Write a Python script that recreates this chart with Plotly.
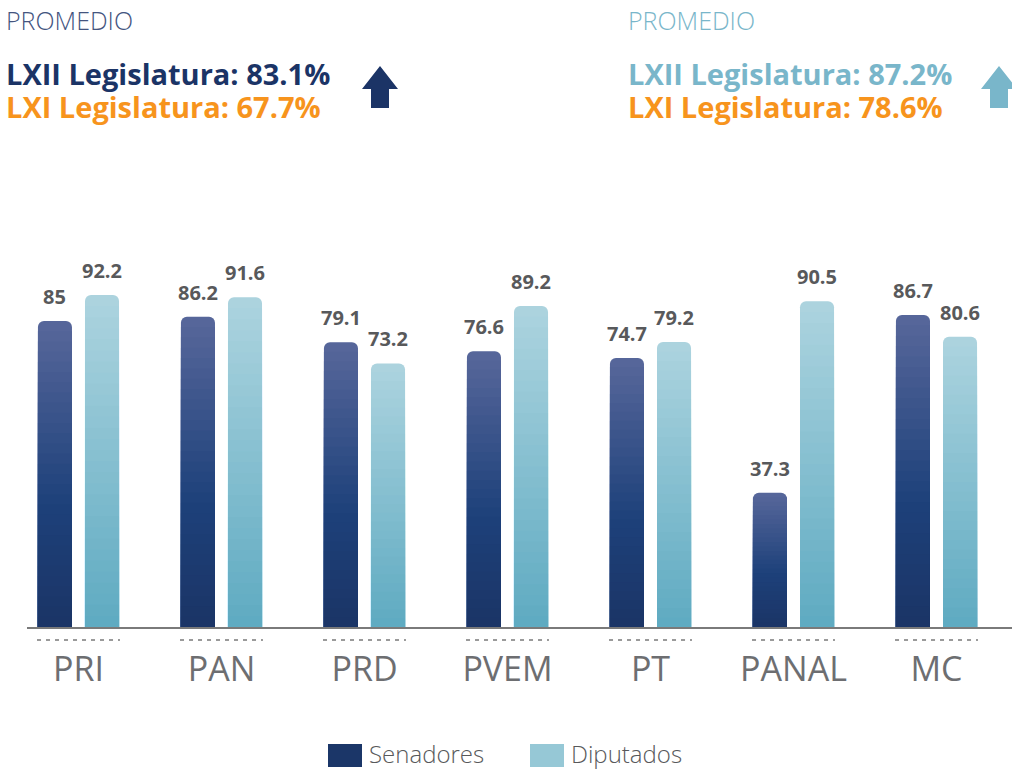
import plotly.graph_objects as go

# ---------------- data ----------------
categories = ["PRI", "PAN", "PRD", "PVEM", "PT", "PANAL", "MC"]
senadores = [85, 86.2, 79.1, 76.6, 74.7, 37.3, 86.7]
diputados = [92.2, 91.6, 73.2, 89.2, 79.2, 90.5, 80.6]
series_names = ["Senadores", "Diputados"]

prom_sen_lxii = "83.1%"
prom_sen_lxi = "67.7%"
prom_dip_lxii = "87.2%"
prom_dip_lxi = "78.6%"

# ---------------- style ----------------
W, H = 1012, 770
ML, MR, MT, MB = 27, 0, 150, 143
PW, PH = W - ML - MR, H - MT - MB
FONT = "Open Sans"

def px2x(px):
    return (px - ML) / PW

def px2y(py):
    return (H - MB - py) / PH

def hex2rgb(h):
    h = h.lstrip("#")
    return tuple(int(h[i:i + 2], 16) for i in (0, 2, 4))

def interp(stops, t):
    for (t0, c0), (t1, c1) in zip(stops, stops[1:]):
        if t0 <= t <= t1:
            f = (t - t0) / (t1 - t0) if t1 > t0 else 0
            a, b = hex2rgb(c0), hex2rgb(c1)
            return "rgb(%d,%d,%d)" % tuple(round(a[i] + (b[i] - a[i]) * f) for i in range(3))
    return stops[-1][1]

sen_stops = [(0, "#58679b"), (0.6, "#1d417a"), (1, "#1b3466")]
dip_stops = [(0, "#add4df"), (1, "#5eaac1")]

bar_w = 0.238
centers = [-0.1645, 0.1645]
N = 30

fig = go.Figure()
x_idx = list(range(len(categories)))

for vals, stops, c in [(senadores, sen_stops, centers[0]), (diputados, dip_stops, centers[1])]:
    for k in range(N):
        frac = (N - k) / N
        fig.add_trace(go.Bar(
            x=x_idx,
            y=[v * frac for v in vals],
            width=bar_w,
            offset=c - bar_w / 2,
            marker=dict(color=interp(stops, (k + 0.5) / N), line=dict(width=0),
                        cornerradius=6 if k == 0 else 0),
            showlegend=False,
            hoverinfo="skip",
        ))

# value labels
annotations = []
for vals, c in [(senadores, centers[0]), (diputados, centers[1])]:
    for i, v in enumerate(vals):
        annotations.append(dict(
            x=i + c, y=v, xref="x", yref="y", text=f"{v:g}", showarrow=False,
            yanchor="bottom", xanchor="center", yshift=9,
            font=dict(family=FONT, size=20, color="#58595b", weight="bold"),
        ))

# header texts
def header(px, py, text, color, size, weight):
    annotations.append(dict(
        x=px2x(px), y=px2y(py), xref="paper", yref="paper", text=text, showarrow=False,
        xanchor="left", yanchor="middle", borderpad=0, align="left",
        font=dict(family=FONT, size=size, color=color, weight=weight),
    ))

dark_blue = "#1b3466"
light_blue = "#79b6ca"
orange = "#f7941d"

def two_lines(c1, t1, c2, t2):
    return (f'<span style="font-size:29px;color:{c1}">{t1}</span><br>'
            f'<span style="font-size:29px;color:{c2}">{t2}</span>')

header(5, 20, "PROMEDIO", "#44557f", 25, 300)
header(5, 90, two_lines(dark_blue, f"LXII Legislatura: {prom_sen_lxii}",
                        orange, f"LXI Legislatura: {prom_sen_lxi}"), dark_blue, 25.4, "bold")
header(627, 20, "PROMEDIO", light_blue, 25, 300)
header(627, 90, two_lines(light_blue, f"LXII Legislatura: {prom_dip_lxii}",
                          orange, f"LXI Legislatura: {prom_dip_lxi}"), light_blue, 25.4, "bold")

# legend (custom)
leg_items = [(328, 362, 368, series_names[0], "#1b3668"), (530, 564, 570, series_names[1], "#96c8d6")]
shapes = []
for x0, x1, tx, name, col in leg_items:
    shapes.append(dict(type="rect", xref="paper", yref="paper",
                       x0=px2x(x0), x1=px2x(x1), y0=px2y(767), y1=px2y(744),
                       fillcolor=col, line=dict(width=0)))
    annotations.append(dict(
        x=px2x(tx), y=px2y(754), xref="paper", yref="paper", text=name, showarrow=False,
        xanchor="left", yanchor="middle", borderpad=0,
        font=dict(family=FONT, size=24, color="#58595b", weight=300),
    ))

# arrows
def arrow(xl, xr, sl, sr, top, mid, bottom, col):
    cx = (xl + xr) / 2
    pts = [(cx, top), (xr, mid), (sr, mid), (sr, bottom), (sl, bottom), (sl, mid), (xl, mid)]
    path = "M " + " L ".join(f"{px2x(a)},{px2y(b)}" for a, b in pts) + " Z"
    shapes.append(dict(type="path", xref="paper", yref="paper", path=path,
                       fillcolor=col, line=dict(width=0)))

arrow(362, 398, 371, 389, 66, 89, 108, dark_blue)
arrow(981, 1017, 990, 1008, 66, 89, 108, light_blue)

# dashed lines under categories
for i in x_idx:
    shapes.append(dict(type="line", xref="x", yref="paper",
                       x0=i - 0.29, x1=i + 0.29, y0=px2y(640), y1=px2y(640),
                       line=dict(color="#9a9a9a", width=2, dash="4px,5px")))

fig.update_layout(
    width=W, height=H,
    margin=dict(l=ML, r=MR, t=MT, b=MB),
    paper_bgcolor="white", plot_bgcolor="white",
    barmode="overlay",
    showlegend=False,
    annotations=annotations,
    shapes=shapes,
    xaxis=dict(
        tickmode="array", tickvals=x_idx, ticktext=categories,
        range=[-0.36, 6.528], showgrid=False, zeroline=False,
        showline=True, linecolor="#7a7a7a", linewidth=2,
        ticks="", ticklabelstandoff=11,
        tickfont=dict(family=FONT, size=34, color="#6d6e71"),
        fixedrange=True,
    ),
    yaxis=dict(range=[0, PH / 3.6], visible=False, fixedrange=True),
)

fig.write_html("out.html", post_script="document.body.style.margin='0';",
               config={"displayModeBar": False})
